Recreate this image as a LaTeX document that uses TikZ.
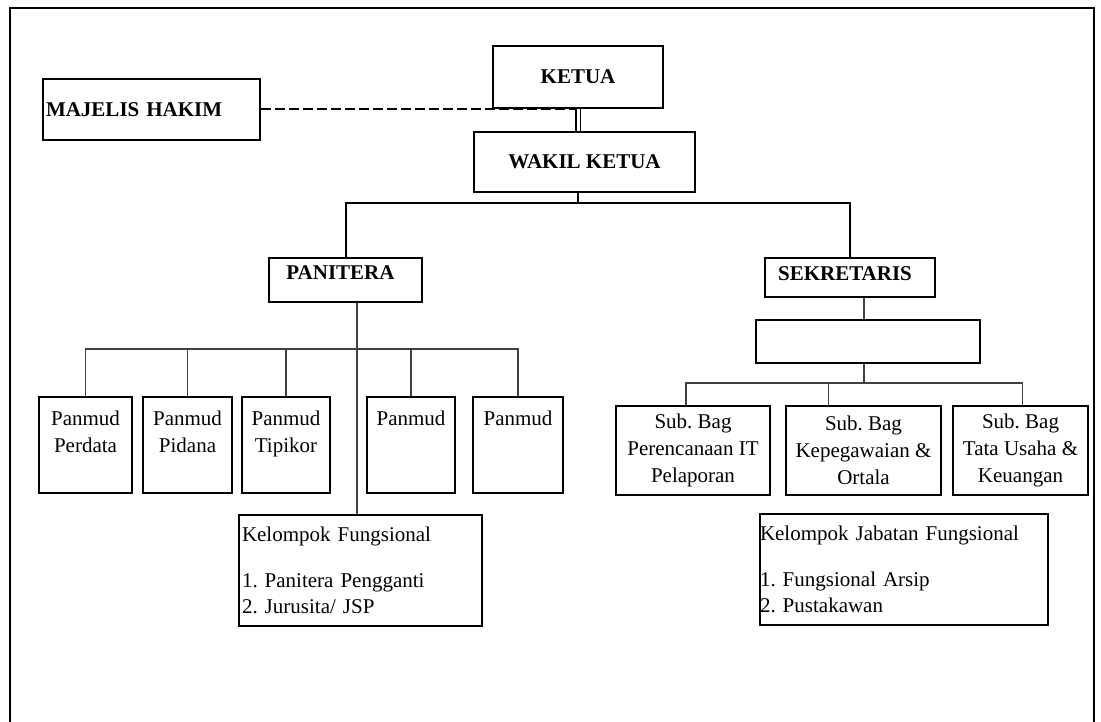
\documentclass[tikz,border=0pt]{standalone}
\usepackage{fontspec}
\setmainfont{Liberation Serif}
\frenchspacing

\begin{document}
\begin{tikzpicture}[x=1pt,y=-1pt,
        font=\fontsize{21}{27}\selectfont,
        headbox/.style={draw, rectangle, line width=2.8pt, inner sep=2pt, font=\fontsize{21}{27}\selectfont\bfseries},
        unitbox/.style={draw, rectangle, line width=2.8pt, inner sep=2pt, align=center},
        groupbox/.style={draw, rectangle, line width=2.8pt, align=left, minimum height=111pt, font=\fontsize{21}{26}\selectfont},
        link/.style={line width=2pt},
        thinlink/.style={line width=1.3pt, black!75}]
        \useasboundingbox (0,0) rectangle (1101,722);
        \draw[line width=2.5pt] (10,722) -- (10,8) -- (1094,8) -- (1094,722);

        \node (ketua) [headbox, minimum width=170pt, minimum height=62pt] at (578,77) {KETUA};
        \node (wakil) [headbox, minimum width=221pt, minimum height=60pt] at (584.5,162) {WAKIL KETUA};
        \node (majelis) [headbox, text width=211pt, align=left, inner xsep=3pt, minimum height=61pt] at (151.5,109.5) {MAJELIS HAKIM};
        \node (panitera) [headbox, minimum width=153pt, minimum height=44pt] at (345.5,280) {PANITERA\hspace{10pt}\raisebox{0pt}[0pt][14pt]{}};
        \node (sekretaris) [headbox, minimum width=170pt, minimum height=39pt] at (850,277.5) {SEKRETARIS\hspace{10pt}\raisebox{0pt}[0pt][8pt]{}};
        \node (blank) [draw, rectangle, line width=2.8pt, minimum width=224pt, minimum height=43pt] at (868,341.5) {};

        % panmud row
        \node (pm1) [unitbox, minimum width=93pt, minimum height=96pt] at (85.5,445) {Panmud\\Perdata\\~};
        \node (pm2) [unitbox, minimum width=89pt, minimum height=96pt, right of=pm1, node distance=102pt] {Panmud\\Pidana\\~};
        \node (pm3) [unitbox, minimum width=88pt, minimum height=96pt, right of=pm2, node distance=98.5pt] {Panmud\\Tipikor\\~};
        \node (pm4) [unitbox, minimum width=88pt, minimum height=96pt, right of=pm3, node distance=125pt] {Panmud\\~\\~};
        \node (pm5) [unitbox, minimum width=90pt, minimum height=96pt, right of=pm4, node distance=107pt] {Panmud\\~\\~};

        % sub bag row
        \node (subA) [unitbox, minimum width=154pt, minimum height=89pt] at (693,450.5) {Sub. Bag\\Perencanaan IT\\Pelaporan};
        \node (subB) [unitbox, minimum width=155pt, minimum height=89pt, right of=subA, node distance=170.5pt] {Sub. Bag\\Kepegawaian \&\\Ortala};
        \node (subC) [unitbox, minimum width=135pt, minimum height=89pt, right of=subB, node distance=157pt] {Sub. Bag\\Tata Usaha \&\\Keuangan};

        \node (kf1) [groupbox, text width=237pt, inner xsep=3pt] at (360.5,570.5) {Kelompok Fungsional\\[20pt]1. Panitera Pengganti\\2. Jurusita/ JSP};
        \node (kf2) [groupbox, text width=288pt, inner xsep=0pt] at (904,569.5) {Kelompok Jabatan Fungsional\\[20pt]1. Fungsional Arsip\\2. Pustakawan};

        \coordinate (split) at (578,203);
        \coordinate (pbus) at (357,349);
        \coordinate (sbus) at (864,383);

        \draw[line width=2pt, dash pattern=on 10pt off 4pt] (majelis.east) -- (majelis.east -| split);
        \draw[double, double distance=3pt, line width=1.2pt] (ketua.south -| split) -- (wakil.north -| split);
        \draw[link] (wakil.south -| split) -- (split);
        \draw[link] (panitera.north) |- (split) -| (sekretaris.north);

        \draw[thinlink] (panitera.south -| pbus) -- (kf1.north -| pbus);
        \draw[thinlink] (pm1.north) |- (pbus) -| (pm5.north);
        \foreach \p in {pm2,pm3,pm4}
            \draw[thinlink] (\p.north) -- (\p.north |- pbus);

        \draw[thinlink] (sekretaris.south -| sbus) -- (blank.north -| sbus);
        \draw[thinlink] (blank.south -| sbus) -- (sbus);
        \draw[thinlink] ([xshift=-7pt]subA.north) |- (sbus) -| ([xshift=2pt]subC.north);
        \draw[thinlink] ([xshift=-35pt]subB.north) -- ([xshift=-35pt]subB.north |- sbus);
    \end{tikzpicture}
\end{document}
